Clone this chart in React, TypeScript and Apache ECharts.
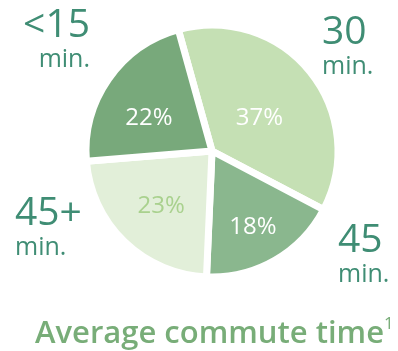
import React, { useEffect, useRef } from "react";
import * as echarts from "echarts";

// ---- data ----
const categories = ["30", "45", "45+", "<15"];
const shares = [37, 18, 23, 22];
const unitLabel = "min.";
const titleText = "Average commute time";
const footnoteMark = "1";

// ---- styles ----
const sliceColors = ["#c5e0b4", "#8ab78e", "#e2efd9", "#78a97b"];
const pctColors = ["#ffffff", "#ffffff", "#a9d18e", "#ffffff"];
const pctOffsets = [
  [-4, 6],
  [8, 16],
  [-5, 5],
  [-9, 2],
];
// category caption anchors: [x, top, align]
const captionPlaces: [number, number, string][] = [
  [322, 9, "left"],
  [338, 217, "left"],
  [15, 190, "left"],
  [90, 2, "right"],
];
const FONT = "'Open Sans', 'Noto Sans', sans-serif";
const captionColor = "#3f8d74";
const titleColor = "#78ad78";

export default function App() {
  const ref = useRef<HTMLDivElement>(null);
  useEffect(() => {
    if (!ref.current) return;
    const chart = echarts.init(ref.current, undefined, { renderer: "svg" });
    const graphic: any[] = [];
    categories.forEach((c, i) => {
      const [x, y, align] = captionPlaces[i];
      graphic.push({
        type: "text",
        x,
        y,
        style: {
          text: `{n|${c}}\n{u|${unitLabel}}`,
          align,
          verticalAlign: "top",
          rich: {
            n: {
              fill: captionColor,
              fontFamily: FONT,
              fontWeight: 500,
              fontSize: 39,
              lineHeight: 38,
              align,
            },
            u: {
              fill: captionColor,
              fontFamily: FONT,
              fontWeight: 500,
              fontSize: 25,
              lineHeight: 34,
              align,
            },
          },
        },
      });
    });
    graphic.push({
      type: "text",
      x: 35,
      y: 331,
      style: {
        text: `{t|${titleText}}{s|${footnoteMark}}`,
        verticalAlign: "middle",
        rich: {
          t: {
            fontSize: 31,
            fontFamily: FONT,
            fontWeight: 600,
            fill: titleColor,
            lineHeight: 34,
          },
          s: {
            fontSize: 17,
            fontFamily: FONT,
            fill: titleColor,
            verticalAlign: "top",
          },
        },
      },
    });
    chart.setOption({
      animation: false,
      graphic,
      series: [
        {
          type: "pie",
          center: [212, 151],
          radius: 126,
          startAngle: 105.5,
          clockwise: true,
          avoidLabelOverlap: false,
          itemStyle: { borderColor: "#ffffff", borderWidth: 7 },
          label: {
            show: true,
            position: "inside",
            formatter: "{c}%",
            fontFamily: FONT,
            fontSize: 24,
            fontWeight: 400,
          },
          labelLayout: (p: any) => ({
            dx: pctOffsets[p.dataIndex][0],
            dy: pctOffsets[p.dataIndex][1],
          }),
          emphasis: { disabled: true },
          data: categories.map((c, i) => ({
            name: c,
            value: shares[i],
            itemStyle: { color: sliceColors[i] },
            label: { color: pctColors[i] },
          })),
        },
      ],
    });
    return () => chart.dispose();
  }, []);
  return (
    <div
      ref={ref}
      style={{ position: "fixed", left: 0, top: 0, width: 398, height: 351 }}
    />
  );
}
